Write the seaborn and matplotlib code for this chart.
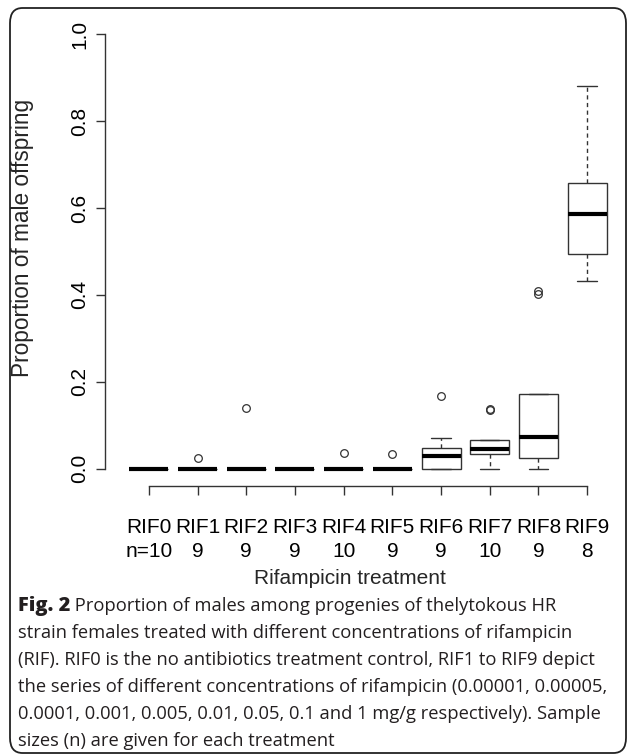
import matplotlib.pyplot as plt
import seaborn as sns
import pandas as pd
from matplotlib.patches import FancyBboxPatch

treatments = ["RIF0", "RIF1", "RIF2", "RIF3", "RIF4", "RIF5", "RIF6", "RIF7", "RIF8", "RIF9"]
sample_sizes = [10, 9, 9, 9, 10, 9, 9, 10, 9, 8]

# proportion of male offspring per female, estimated from the boxes
rif0 = [0, 0, 0, 0, 0, 0, 0, 0, 0, 0]
rif1 = [0, 0, 0, 0, 0, 0, 0, 0, 0.025]
rif2 = [0, 0, 0, 0, 0, 0, 0, 0, 0.14]
rif3 = [0, 0, 0, 0, 0, 0, 0, 0, 0]
rif4 = [0, 0, 0, 0, 0, 0, 0, 0, 0, 0.035]
rif5 = [0, 0, 0, 0, 0, 0, 0, 0, 0.033]
rif6 = [0, 0, 0, 0.02, 0.029, 0.04, 0.048, 0.0715, 0.167]
rif7 = [0, 0.025, 0.034, 0.034, 0.04, 0.05, 0.067, 0.067, 0.136, 0.137]
rif8 = [0, 0.01, 0.025, 0.05, 0.073, 0.12, 0.173, 0.402, 0.409]
rif9 = [0.433, 0.494, 0.494, 0.566, 0.608, 0.658, 0.658, 0.882]

yticks = [0.0, 0.2, 0.4, 0.6, 0.8, 1.0]
ytick_labels = ["0.0", "0.2", "0.4", "0.6", "0.8", "1.0"]

caption_head = "Fig. 2"
caption_first = " Proportion of males among progenies of thelytokous HR"
caption_lines = [
    "strain females treated with different concentrations of rifampicin",
    "(RIF). RIF0 is the no antibiotics treatment control, RIF1 to RIF9 depict",
    "the series of different concentrations of rifampicin (0.00001, 0.00005,",
    "0.0001, 0.001, 0.005, 0.01, 0.05, 0.1 and 1 mg/g respectively). Sample",
    "sizes (n) are given for each treatment",
]

groups = [rif0, rif1, rif2, rif3, rif4, rif5, rif6, rif7, rif8, rif9]
rows = []
for name, vals in zip(treatments, groups):
    for v in vals:
        rows.append({"treatment": name, "proportion": v})
df = pd.DataFrame(rows)

sns.set_style("white")
plt.rcParams["font.family"] = ["Liberation Sans", "DejaVu Sans"]

W, H = 627, 756
fig = plt.figure(figsize=(W / 100, H / 100), dpi=100)
ax = fig.add_axes([105 / W, 1 - 486 / H, (627 - 105) / W, (486 - 17) / H])

dark = "#333333"
sns.boxplot(
    data=df, x="treatment", y="proportion", order=treatments, ax=ax,
    color="white", linecolor=dark, linewidth=1.0, width=0.8, whis=1.5,
    medianprops=dict(color="black", linewidth=3),
    whiskerprops=dict(linestyle=(0, (3, 2.5))),
    flierprops=dict(marker="o", markerfacecolor="none", markeredgecolor=dark,
                    markersize=5.5, markeredgewidth=0.9),
)

ax.set_xlim(-0.9, -0.9 + (627 - 105) / 48.7)
ax.set_ylim(-0.04, 1.04)
ax.set_yticks(yticks)
ax.set_yticklabels(ytick_labels, rotation=90, va="center")
xlabels = []
for i, (t, n) in enumerate(zip(treatments, sample_sizes)):
    xlabels.append(t + "\n" + ("n=" if i == 0 else "") + str(n))
ax.set_xticks(range(len(treatments)))
ax.set_xticklabels(xlabels, linespacing=1.35)

for s in ["top", "right"]:
    ax.spines[s].set_visible(False)
ax.spines["left"].set_bounds(0, 1)
ax.spines["bottom"].set_bounds(0, 9)
for s in ["left", "bottom"]:
    ax.spines[s].set_color(dark)
    ax.spines[s].set_linewidth(1.0)
ax.tick_params(axis="both", direction="out", length=6.5, width=1.0, color=dark,
               labelsize=15, labelcolor="black", left=True, bottom=True)
ax.tick_params(axis="y", pad=5)
ax.tick_params(axis="x", pad=16.5)

ax.set_xlabel("Rifampicin treatment", fontsize=15)
ax.set_ylabel("Proportion of male offspring", fontsize=16.3)
ax.xaxis.set_label_coords((350 - 105) / (627 - 105), (486 - 578) / (486 - 17))
ax.xaxis.label.set_verticalalignment("center")
ax.yaxis.set_label_coords((22 - 105) / (627 - 105), (486 - 238) / (486 - 17))
ax.yaxis.label.set_verticalalignment("center")

# caption frame
frame = FancyBboxPatch((10 / W, 1 - 753 / H), (626 - 10) / W, (753 - 8) / H,
                       boxstyle="round,pad=0,rounding_size=0.02",
                       transform=fig.transFigure, facecolor="none",
                       edgecolor="#222222", linewidth=1.3, clip_on=False)
fig.patches.append(frame)

cap_font = ["Open Sans", "DejaVu Sans"]
cap_size = 13.2
cap_color = "#231f20"
y0 = 611
t1 = fig.text(18 / W, 1 - y0 / H, caption_head, fontsize=14.4, fontweight="heavy",
              family=cap_font, va="baseline", ha="left", color=cap_color)
fig.canvas.draw()
x_after = t1.get_window_extent().x1 / fig.dpi / fig.get_figwidth()
fig.text(x_after, 1 - y0 / H, caption_first, fontsize=cap_size, family=cap_font,
         va="baseline", ha="left", color=cap_color)
for i, line in enumerate(caption_lines):
    fig.text(18 / W, 1 - (y0 + 27 * (i + 1)) / H, line, fontsize=cap_size,
             family=cap_font, va="baseline", ha="left", color=cap_color)

fig.savefig("out.png", dpi=100)
